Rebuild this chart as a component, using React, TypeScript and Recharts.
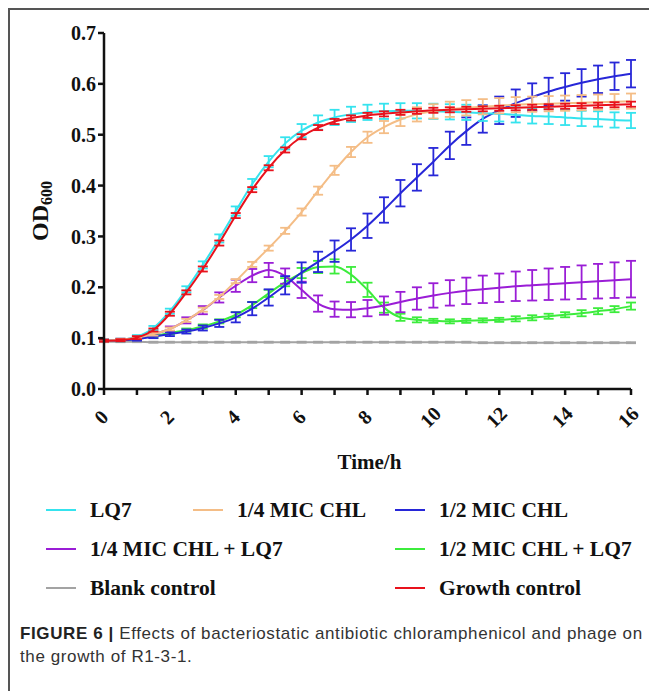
import { LineChart, Line, XAxis, YAxis, ErrorBar } from 'recharts'

// sampling times (h)
const TIME = [0, 0.5, 1, 1.5, 2, 2.5, 3, 3.5, 4, 4.5, 5, 5.5, 6, 6.5, 7, 7.5, 8, 8.5, 9, 9.5, 10, 10.5, 11, 11.5, 12, 12.5, 13, 13.5, 14, 14.5, 15, 15.5, 16]

const LQ7 = [0.095, 0.097, 0.103, 0.12, 0.153, 0.196, 0.244, 0.296, 0.35, 0.403, 0.447, 0.483, 0.508, 0.524, 0.534, 0.54, 0.544, 0.546, 0.547, 0.547, 0.546, 0.545, 0.544, 0.542, 0.541, 0.539, 0.537, 0.536, 0.534, 0.532, 0.531, 0.529, 0.528]
const LQ7_ERR = [0.002, 0.002, 0.003, 0.004, 0.005, 0.006, 0.007, 0.008, 0.009, 0.01, 0.011, 0.012, 0.013, 0.014, 0.015, 0.015, 0.015, 0.015, 0.015, 0.015, 0.015, 0.015, 0.015, 0.015, 0.015, 0.015, 0.015, 0.015, 0.015, 0.015, 0.015, 0.015, 0.015]

const QUARTER_CHL = [0.095, 0.097, 0.101, 0.108, 0.118, 0.135, 0.156, 0.181, 0.212, 0.245, 0.277, 0.311, 0.348, 0.39, 0.43, 0.466, 0.495, 0.515, 0.53, 0.54, 0.546, 0.55, 0.553, 0.555, 0.557, 0.559, 0.56, 0.561, 0.562, 0.563, 0.564, 0.565, 0.566]
const QUARTER_CHL_ERR = [0.002, 0.002, 0.002, 0.003, 0.003, 0.003, 0.004, 0.004, 0.004, 0.005, 0.005, 0.006, 0.007, 0.008, 0.009, 0.01, 0.011, 0.012, 0.013, 0.014, 0.014, 0.015, 0.015, 0.015, 0.015, 0.015, 0.015, 0.015, 0.015, 0.015, 0.015, 0.015, 0.015]

const HALF_CHL = [0.095, 0.096, 0.098, 0.103, 0.108, 0.113, 0.12, 0.129, 0.141, 0.158, 0.18, 0.204, 0.229, 0.25, 0.271, 0.294, 0.321, 0.352, 0.385, 0.416, 0.447, 0.479, 0.507, 0.531, 0.548, 0.562, 0.574, 0.585, 0.594, 0.602, 0.609, 0.615, 0.62]
const HALF_CHL_ERR = [0.002, 0.002, 0.003, 0.003, 0.004, 0.004, 0.005, 0.007, 0.01, 0.013, 0.016, 0.018, 0.02, 0.02, 0.021, 0.022, 0.024, 0.025, 0.026, 0.026, 0.027, 0.027, 0.027, 0.027, 0.027, 0.027, 0.027, 0.027, 0.027, 0.027, 0.027, 0.027, 0.027]

const QUARTER_CHL_LQ7 = [0.095, 0.097, 0.101, 0.108, 0.118, 0.135, 0.155, 0.18, 0.203, 0.223, 0.234, 0.222, 0.195, 0.168, 0.157, 0.156, 0.159, 0.164, 0.171, 0.178, 0.184, 0.189, 0.193, 0.196, 0.199, 0.202, 0.204, 0.206, 0.208, 0.21, 0.212, 0.214, 0.216]
const QUARTER_CHL_LQ7_ERR = [0.002, 0.002, 0.003, 0.004, 0.005, 0.006, 0.008, 0.01, 0.012, 0.013, 0.014, 0.015, 0.016, 0.016, 0.015, 0.015, 0.016, 0.018, 0.02, 0.022, 0.024, 0.025, 0.026, 0.027, 0.028, 0.029, 0.03, 0.031, 0.032, 0.033, 0.034, 0.035, 0.036]

const HALF_CHL_LQ7 = [0.095, 0.096, 0.099, 0.104, 0.11, 0.116, 0.123, 0.133, 0.146, 0.165, 0.188, 0.21, 0.228, 0.24, 0.241, 0.225, 0.195, 0.16, 0.141, 0.136, 0.134, 0.133, 0.134, 0.135, 0.136, 0.138, 0.14, 0.143, 0.146, 0.149, 0.153, 0.157, 0.163]
const HALF_CHL_LQ7_ERR = [0.002, 0.002, 0.002, 0.003, 0.003, 0.003, 0.004, 0.004, 0.005, 0.006, 0.007, 0.008, 0.01, 0.012, 0.014, 0.015, 0.014, 0.01, 0.007, 0.005, 0.004, 0.004, 0.004, 0.004, 0.004, 0.005, 0.005, 0.005, 0.005, 0.006, 0.006, 0.006, 0.007]

const BLANK = [0.093, 0.093, 0.093, 0.092, 0.092, 0.092, 0.092, 0.092, 0.092, 0.092, 0.092, 0.092, 0.092, 0.092, 0.092, 0.092, 0.092, 0.092, 0.092, 0.092, 0.092, 0.092, 0.092, 0.091, 0.091, 0.091, 0.091, 0.091, 0.091, 0.091, 0.091, 0.091, 0.091]
const BLANK_ERR = [0.001, 0.001, 0.001, 0.001, 0.001, 0.001, 0.001, 0.001, 0.001, 0.001, 0.001, 0.001, 0.001, 0.001, 0.001, 0.001, 0.001, 0.001, 0.001, 0.001, 0.001, 0.001, 0.001, 0.001, 0.001, 0.001, 0.001, 0.001, 0.001, 0.001, 0.001, 0.001, 0.001]

const GROWTH = [0.095, 0.096, 0.101, 0.116, 0.148, 0.19, 0.236, 0.287, 0.341, 0.392, 0.435, 0.47, 0.496, 0.514, 0.526, 0.533, 0.538, 0.541, 0.544, 0.546, 0.548, 0.549, 0.55, 0.551, 0.552, 0.553, 0.554, 0.555, 0.556, 0.557, 0.558, 0.559, 0.56]
const GROWTH_ERR = [0.002, 0.002, 0.003, 0.003, 0.004, 0.004, 0.005, 0.005, 0.005, 0.005, 0.005, 0.005, 0.005, 0.005, 0.005, 0.005, 0.005, 0.005, 0.005, 0.005, 0.005, 0.005, 0.005, 0.005, 0.005, 0.005, 0.005, 0.005, 0.005, 0.005, 0.005, 0.005, 0.005]

const Y_TICKS = [0, 0.1, 0.2, 0.3, 0.4, 0.5, 0.6, 0.7]
const X_TICKS = [0, 1, 2, 3, 4, 5, 6, 7, 8, 9, 10, 11, 12, 13, 14, 15, 16]

// drawing order = order in this list (last on top)
const SERIES = [
  { key: 'blank', name: 'Blank control', color: '#a3a3a3', values: BLANK, err: BLANK_ERR },
  { key: 'halfLq7', name: '1/2 MIC CHL + LQ7', color: '#3cec3c', values: HALF_CHL_LQ7, err: HALF_CHL_LQ7_ERR },
  { key: 'quarterLq7', name: '1/4 MIC CHL + LQ7', color: '#9a1dd6', values: QUARTER_CHL_LQ7, err: QUARTER_CHL_LQ7_ERR },
  { key: 'half', name: '1/2 MIC CHL', color: '#2727d8', values: HALF_CHL, err: HALF_CHL_ERR },
  { key: 'lq7', name: 'LQ7', color: '#35e3ee', values: LQ7, err: LQ7_ERR },
  { key: 'quarter', name: '1/4 MIC CHL', color: '#f4bd86', values: QUARTER_CHL, err: QUARTER_CHL_ERR },
  { key: 'growth', name: 'Growth control', color: '#e8121c', values: GROWTH, err: GROWTH_ERR },
]

const LEGEND_ROWS = [
  ['lq7', 'quarter', 'half'],
  ['quarterLq7', null, 'halfLq7'],
  ['blank', null, 'growth'],
]

const data = TIME.map((t, i) => {
  const row: Record<string, number> = { t }
  SERIES.forEach((s) => {
    row[s.key] = s.values[i]
    row[s.key + 'Err'] = s.err[i]
  })
  return row
})

const SERIF = '"Liberation Serif", "Times New Roman", serif'

function XTick({ x, y, payload }: any) {
  if (payload.value % 2 !== 0) return null
  const cx = x - 3
  const cy = y + 20
  return (
    <text x={cx} y={cy} textAnchor="middle" dominantBaseline="central" transform={`rotate(-45, ${cx}, ${cy})`}
      fontFamily={SERIF} fontWeight="bold" fontSize={20} fill="#111">
      {payload.value}
    </text>
  )
}

function YLabel({ viewBox }: any) {
  const cx = viewBox.x + 30
  const cy = viewBox.y + viewBox.height / 2
  return (
    <text x={cx} y={cy} textAnchor="middle" dominantBaseline="central" transform={`rotate(-90, ${cx}, ${cy})`}
      fontFamily={SERIF} fontWeight="bold" fontSize={24} fill="#111">
      <tspan>OD</tspan>
      <tspan fontSize={16} dy={6}>600</tspan>
    </text>
  )
}

function XLabel({ viewBox }: any) {
  return (
    <text x={viewBox.x + viewBox.width / 2 + 2} y={viewBox.y + 80} textAnchor="middle"
      fontFamily={SERIF} fontWeight="bold" fontSize={21} fill="#111">
      Time/h
    </text>
  )
}

const COL_X = [36, 183, 385]

export default function App() {
  return (
    <div style={{ position: 'relative', width: 649, height: 683, boxSizing: 'border-box', borderTop: '2px solid #555', borderLeft: '2px solid #555', background: '#fff' }}>
      <div style={{ position: 'absolute', left: 0, top: 0 }}>
        <LineChart width={640} height={480} data={data} margin={{ top: 23, right: 19, left: 0, bottom: 0 }}>
          <XAxis dataKey="t" type="number" domain={[0, 16]} ticks={X_TICKS} interval={0} height={101}
            stroke="#111" strokeWidth={2.5} tickSize={6} tick={<XTick />} label={<XLabel />} />
          <YAxis domain={[0, 0.7]} ticks={Y_TICKS} width={94} stroke="#111" strokeWidth={2.5} tickSize={6}
            tickFormatter={(v: number) => v.toFixed(1)}
            tick={{ fontFamily: SERIF, fontWeight: 'bold', fontSize: 20, fill: '#111' }} label={<YLabel />} />
          {SERIES.map((s) => (
            <Line key={s.key} dataKey={s.key} name={s.name} type="monotone" stroke={s.color} strokeWidth={2}
              dot={false} isAnimationActive={false}>
              <ErrorBar dataKey={s.key + 'Err'} direction="y" width={5} stroke={s.color} strokeWidth={1.8} />
            </Line>
          ))}
        </LineChart>
      </div>

      {LEGEND_ROWS.map((row, r) =>
        row.map((k, c) => {
          if (!k) return null
          const s = SERIES.find((x) => x.key === k)!
          return (
            <div key={k} style={{ position: 'absolute', left: COL_X[c], top: 487 + r * 39, height: 26, display: 'flex', alignItems: 'center' }}>
              <div style={{ width: 30, height: 2.5, background: s.color }} />
              <span style={{ marginLeft: 14, fontFamily: SERIF, fontWeight: 'bold', fontSize: 21.5, color: '#111', whiteSpace: 'nowrap' }}>{s.name}</span>
            </div>
          )
        })
      )}

      <div style={{ position: 'absolute', left: 10, top: 612, width: 636, fontFamily: '"Liberation Sans", Arial, sans-serif', fontSize: 17, letterSpacing: 0.6, lineHeight: '23px', color: '#333', whiteSpace: 'nowrap' }}>
        <b style={{ color: '#222' }}>FIGURE 6 |</b> Effects of bacteriostatic antibiotic chloramphenicol and phage on
        <br />
        the growth of R1-3-1.
      </div>
    </div>
  )
}
